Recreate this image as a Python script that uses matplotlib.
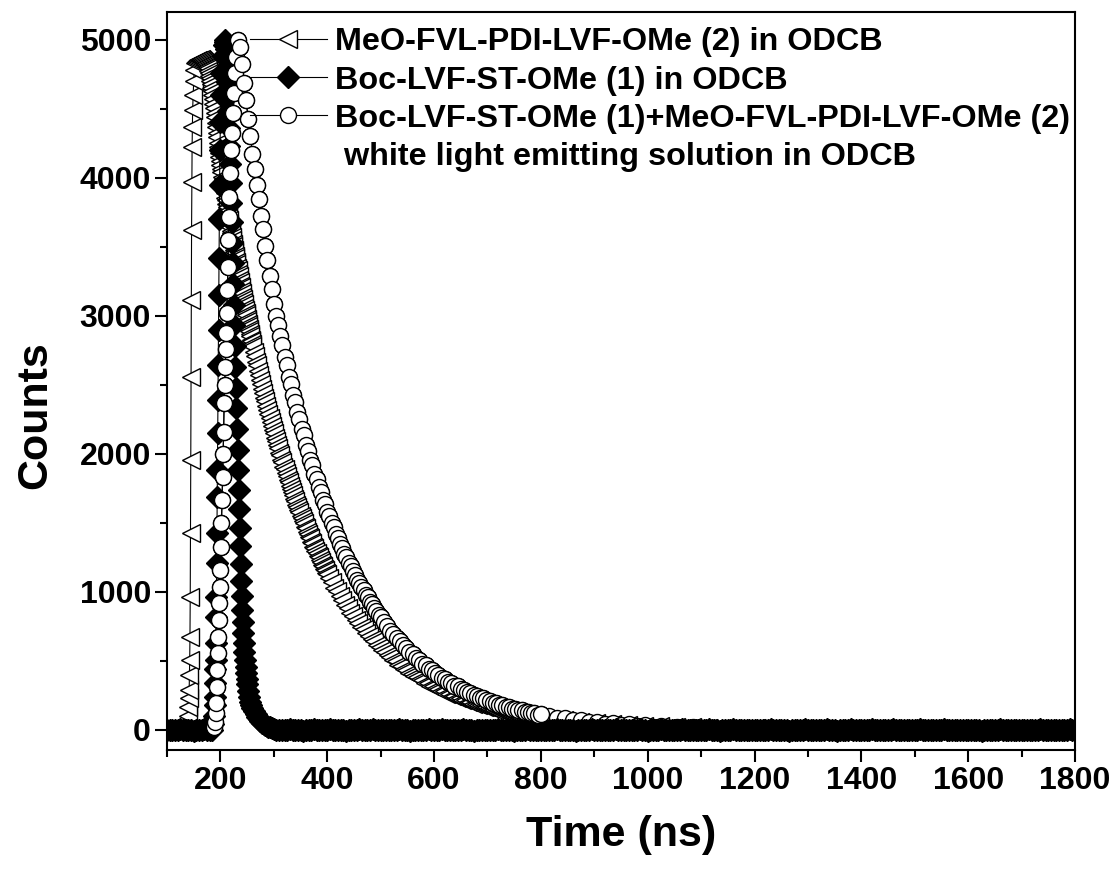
import numpy as np
import matplotlib
matplotlib.use("Agg")
import matplotlib.pyplot as plt
from matplotlib.lines import Line2D
from matplotlib.ticker import MultipleLocator

plt.rcParams["font.family"] = ["Liberation Sans", "DejaVu Sans"]
plt.rcParams["font.weight"] = "bold"
plt.rcParams["axes.labelweight"] = "bold"

# ---------------------------------------------------------------------------
# Fluorescence decay histograms (time in ns, counts)
# ---------------------------------------------------------------------------
labels = [
    "MeO-FVL-PDI-LVF-OMe (2) in ODCB",
    "Boc-LVF-ST-OMe (1) in ODCB",
    "Boc-LVF-ST-OMe (1)+MeO-FVL-PDI-LVF-OMe (2)",
    " white light emitting solution in ODCB",
]

# --- MeO-FVL-PDI-LVF-OMe (2) --------------------------------------------
pdi_time_base = [100, 104, 108, 112, 116, 120, 124, 128, 132, 135]
pdi_counts_base = [6, -8, 10, 3, 14, 7, 20, 16, 28, 38]

pdi_time_rise = [138, 139, 140, 141, 141.5, 142, 142.5, 143, 143.5, 144, 144.5,
                 145, 145.5, 146, 146.5, 147, 147.5, 148, 149, 150, 151, 152]
pdi_counts_rise = [50, 100, 170, 230, 290, 400, 507, 674, 964, 1428, 1957,
                   2558, 3116, 3623, 3971, 4225, 4370, 4493, 4600, 4700, 4780, 4830]

pdi_time_peak = [154, 156, 158, 160, 162, 164, 166, 168, 170]
pdi_counts_peak = [4840, 4848, 4852, 4855, 4850, 4856, 4852, 4846, 4838]

pdi_time_decay1 = [171, 172, 173, 174, 175, 176, 177, 178, 179, 180,
                   181, 182, 183, 184, 185, 186, 187, 188, 189, 190,
                   191, 192, 193, 194, 195, 196, 197, 198, 199, 200,
                   201, 202, 203, 204, 205, 206, 207, 208, 209, 210,
                   211, 212, 213, 214, 215, 216, 217, 218, 219, 220,
                   221, 222, 223, 224, 225, 226, 227, 228, 229, 230,
                   231, 232, 233, 234, 235, 236, 237, 238, 239, 240,
                   241, 242, 243, 244, 245, 246, 247, 248, 249, 250,
                   251, 252, 253, 254, 255, 256, 257, 258, 259, 260]
pdi_counts_decay1 = [4832, 4826, 4818, 4812, 4800, 4791, 4774, 4760, 4738, 4722,
                     4700, 4682, 4653, 4630, 4598, 4570, 4533, 4502, 4465, 4436,
                     4398, 4366, 4325, 4293, 4251, 4219, 4178, 4152, 4118, 4091,
                     4060, 4040, 4008, 3988, 3957, 3937, 3906, 3887, 3856, 3837,
                     3807, 3788, 3758, 3740, 3710, 3692, 3662, 3645, 3615, 3598,
                     3569, 3552, 3523, 3507, 3478, 3462, 3434, 3418, 3390, 3374,
                     3346, 3331, 3303, 3288, 3261, 3246, 3219, 3205, 3178, 3164,
                     3138, 3123, 3097, 3084, 3058, 3044, 3019, 3003, 2978, 2965,
                     2940, 2927, 2902, 2889, 2865, 2852, 2828, 2816, 2792, 2780]

pdi_time_decay2 = [262, 264, 266, 268, 270, 272, 274, 276, 278, 280,
                   282, 284, 286, 288, 290, 292, 294, 296, 298, 300,
                   302, 304, 306, 308, 310, 312, 314, 316, 318, 320,
                   322, 324, 326, 328, 330, 332, 334, 336, 338, 340,
                   342, 344, 346, 348, 350, 352, 354, 356, 358, 360,
                   362, 364, 366, 368, 370, 372, 374, 376, 378, 380,
                   382, 384, 386, 388, 390, 392, 394, 396, 398, 400]
pdi_counts_decay2 = [2738, 2709, 2668, 2640, 2600, 2573, 2534, 2507, 2469, 2444,
                     2406, 2381, 2345, 2321, 2285, 2262, 2227, 2204, 2170, 2148,
                     2115, 2093, 2061, 2040, 2008, 1988, 1957, 1938, 1907, 1888,
                     1858, 1840, 1811, 1794, 1765, 1748, 1720, 1704, 1676, 1660,
                     1633, 1618, 1591, 1577, 1551, 1537, 1511, 1498, 1473, 1460,
                     1435, 1423, 1399, 1387, 1363, 1352, 1328, 1317, 1294, 1284,
                     1261, 1251, 1229, 1219, 1198, 1189, 1167, 1158, 1138, 1129]

pdi_time_decay3 = [403, 408, 413, 418, 423, 428, 433, 438, 443, 448,
                   453, 458, 463, 468, 473, 478, 483, 488, 493, 498,
                   503, 508, 513, 518, 523, 528, 533, 538, 543, 548,
                   553, 558, 563, 568, 573, 578, 583, 588, 593, 598,
                   603, 608, 613, 618, 623, 628, 633, 638, 643, 648,
                   653, 658, 663, 668, 673, 678, 683, 688, 693, 698,
                   703, 708, 713, 718, 723, 728, 733, 738, 743, 748,
                   753, 758, 763, 768, 773, 778, 783, 788, 793, 798]
pdi_counts_decay3 = [1100, 1072, 1031, 1005, 967, 942, 906, 884, 850, 829,
                     796, 777, 746, 729, 700, 684, 656, 641, 615, 601,
                     576, 564, 540, 529, 506, 496, 474, 465, 444, 436,
                     416, 409, 390, 384, 366, 360, 343, 338, 321, 317,
                     301, 297, 282, 279, 264, 262, 247, 245, 232, 230,
                     217, 216, 203, 203, 190, 190, 178, 179, 167, 168,
                     156, 157, 146, 148, 137, 139, 128, 130, 120, 122,
                     112, 115, 105, 108, 98, 101, 92, 95, 86, 89]

pdi_time_tail = [813, 828, 843, 858, 873, 888, 903, 918, 933, 948,
                 963, 978, 993, 1008, 1023, 1038, 1053, 1068, 1083, 1098,
                 1113, 1128, 1143, 1158, 1173, 1188, 1203, 1218, 1233, 1248,
                 1263, 1278, 1293, 1308, 1323, 1338, 1353, 1368, 1383, 1398,
                 1413, 1428, 1443, 1458, 1473, 1488, 1503, 1518, 1533, 1548,
                 1563, 1578, 1593, 1608, 1623, 1638, 1653, 1668, 1683, 1698,
                 1713, 1728, 1743, 1758, 1773, 1788, 1800]
pdi_counts_tail = [80, 66, 70, 52, 58, 41, 49, 33, 42, 27,
                   36, 20, 30, 15, 26, 11, 22, 8, 18, 5,
                   14, 2, 11, -3, 9, 1, 12, -5, 7, 0,
                   10, -4, 6, 2, 9, -6, 5, 1, 8, -3,
                   4, 0, 7, -5, 3, 2, 6, -4, 4, 0,
                   5, -2, 3, 1, 6, -3, 2, 0, 4, -2,
                   3, 1, 5, -1, 2, 0, 3]

# --- Boc-LVF-ST-OMe (1) --------------------------------------------------
st_time_base1 = [100, 105, 110, 115, 120, 125, 130, 135, 140, 145,
                 150, 155, 160, 165, 170, 175, 180, 185]
st_counts_base1 = [2, -1, 3, 0, -2, 4, 1, -3, 2, 0,
                   -4, 3, 1, -2, 4, 0, -1, 3]

st_time_rise = [187, 188, 189, 189.5, 190, 190.5, 191, 191.5, 192, 192.5, 193,
                193.5, 194, 194.5, 195, 195.5, 196, 196.5, 197, 197.5, 198,
                198.5, 199, 200, 201, 202, 204, 206, 208]
st_counts_rise = [40, 100, 180, 240, 340, 440, 510, 630, 820, 960, 1210,
                  1430, 1690, 1880, 2150, 2390, 2640, 2900, 3150, 3420, 3700,
                  3950, 4200, 4400, 4600, 4760, 4880, 4960, 5000]

st_time_fall = [209, 210, 211, 212, 213, 214, 215, 216, 217, 218,
                219, 220, 221, 222, 223, 224, 225, 226, 227, 228,
                229, 230, 231, 232, 233, 234, 235, 236, 237, 238,
                239, 240, 241, 242, 243, 244, 245, 246, 247, 248,
                249, 250, 252, 254, 256, 258, 260, 263, 266, 269,
                272, 275, 278, 281, 284, 287, 290, 293, 296, 300]
st_counts_fall = [4980, 4930, 4860, 4780, 4690, 4590, 4480, 4360, 4230, 4100,
                  3960, 3820, 3680, 3530, 3380, 3230, 3080, 2930, 2780, 2630,
                  2480, 2330, 2180, 2030, 1880, 1740, 1600, 1460, 1330, 1200,
                  1080, 970, 870, 780, 700, 630, 565, 505, 455, 410,
                  370, 335, 280, 240, 205, 180, 160, 135, 115, 97,
                  80, 66, 54, 44, 36, 29, 23, 18, 14, 9]

st_time_base2 = [305, 310, 315, 320, 325, 330, 335, 340, 345, 350, 355, 360, 365, 370, 375, 380, 385, 390, 395, 400,
                 405, 410, 415, 420, 425, 430, 435, 440, 445, 450, 455, 460, 465, 470, 475, 480, 485, 490, 495, 500,
                 505, 510, 515, 520, 525, 530, 535, 540, 545, 550, 555, 560, 565, 570, 575, 580, 585, 590, 595, 600,
                 605, 610, 615, 620, 625, 630, 635, 640, 645, 650, 655, 660, 665, 670, 675, 680, 685, 690, 695, 700,
                 705, 710, 715, 720, 725, 730, 735, 740, 745, 750, 755, 760, 765, 770, 775, 780, 785, 790, 795, 800,
                 805, 810, 815, 820, 825, 830, 835, 840, 845, 850, 855, 860, 865, 870, 875, 880, 885, 890, 895, 900,
                 905, 910, 915, 920, 925, 930, 935, 940, 945, 950, 955, 960, 965, 970, 975, 980, 985, 990, 995, 1000,
                 1005, 1010, 1015, 1020, 1025, 1030, 1035, 1040, 1045, 1050, 1055, 1060, 1065, 1070, 1075, 1080, 1085, 1090, 1095, 1100,
                 1105, 1110, 1115, 1120, 1125, 1130, 1135, 1140, 1145, 1150, 1155, 1160, 1165, 1170, 1175, 1180, 1185, 1190, 1195, 1200,
                 1205, 1210, 1215, 1220, 1225, 1230, 1235, 1240, 1245, 1250, 1255, 1260, 1265, 1270, 1275, 1280, 1285, 1290, 1295, 1300,
                 1305, 1310, 1315, 1320, 1325, 1330, 1335, 1340, 1345, 1350, 1355, 1360, 1365, 1370, 1375, 1380, 1385, 1390, 1395, 1400,
                 1405, 1410, 1415, 1420, 1425, 1430, 1435, 1440, 1445, 1450, 1455, 1460, 1465, 1470, 1475, 1480, 1485, 1490, 1495, 1500,
                 1505, 1510, 1515, 1520, 1525, 1530, 1535, 1540, 1545, 1550, 1555, 1560, 1565, 1570, 1575, 1580, 1585, 1590, 1595, 1600,
                 1605, 1610, 1615, 1620, 1625, 1630, 1635, 1640, 1645, 1650, 1655, 1660, 1665, 1670, 1675, 1680, 1685, 1690, 1695, 1700,
                 1705, 1710, 1715, 1720, 1725, 1730, 1735, 1740, 1745, 1750, 1755, 1760, 1765, 1770, 1775, 1780, 1785, 1790, 1795, 1800]
st_counts_base2 = [2, -1, 3, 0, -2, 4, 1, -3, 2, 0, -4, 3, 1, -2, 5, 0, -1, 2, -3, 1,
                   4, -2, 0, 3, -1, 2, -4, 1, 3, -2, 0, 5, -1, 2, -3, 0, 4, -2, 1, -1,
                   3, 0, -3, 2, 1, -2, 4, -1, 0, 3, -4, 1, 2, -1, 3, -2, 0, 4, -3, 1,
                   -1, 2, 5, -2, 0, 3, -3, 1, 2, -1, 4, 0, -2, 3, -4, 2, 1, -1, 3, 0,
                   2, -3, 1, 4, -1, 0, 3, -2, 1, -4, 2, 3, -1, 0, 4, -2, 1, -3, 2, 0,
                   -2, 3, 0, 1, -3, 4, -1, 2, 0, -2, 3, 1, -4, 2, 0, 3, -1, -2, 4, 1,
                   0, -1, 3, -3, 2, 1, -2, 4, 0, -1, 2, -3, 3, 1, -2, 0, 4, -1, 2, -4,
                   3, 1, -2, 0, 4, -3, 2, -1, 1, 3, -2, 0, 5, -1, -3, 2, 1, -2, 3, 0,
                   -3, 2, 4, -1, 0, 2, -4, 3, 1, -2, 0, 4, -1, 2, -3, 1, 3, -2, 0, 2,
                   1, -2, 3, 0, -1, 4, -3, 1, 2, -2, 3, 0, -4, 2, 1, -1, 3, -2, 4, 0,
                   -1, 3, -2, 2, 0, -3, 4, 1, -1, 2, -4, 3, 0, 1, -2, 4, -1, 0, 2, -3,
                   2, 0, -1, 4, -2, 1, 3, -3, 0, 2, -1, 4, -2, 1, 0, -3, 3, 1, -1, 2,
                   -2, 4, 1, -1, 3, -3, 0, 2, -2, 1, 4, -1, 0, -3, 2, 3, -2, 1, 0, -1,
                   3, -1, 2, 0, -4, 2, 1, -2, 3, 0, -1, 4, -3, 1, 2, -2, 0, 3, -1, 1,
                   0, 2, -3, 3, 1, -1, 4, -2, 0, 2, -3, 1, 3, -1, 0, 2, -2, 4, -1, 1]

# --- Boc-LVF-ST-OMe (1) + MeO-FVL-PDI-LVF-OMe (2), white light mixture ---
mix_time_base = [100, 106, 112, 118, 124, 130, 136, 142, 148, 154, 160, 166, 172, 178, 184, 188]
mix_counts_base = [5, -8, 10, 0, 13, -5, 8, 12, -9, 6, 14, -3, 9, 18, 12, 25]

mix_time_rise = [190, 191, 192, 193, 194, 195, 196, 197, 198, 199,
                 200, 201, 202, 203, 204, 205, 206, 207, 208, 209,
                 210, 211, 212, 213, 214, 215, 216, 217, 218, 220,
                 222, 224, 226, 228, 230, 232]
mix_counts_rise = [60, 123, 196, 312, 435, 558, 674, 797, 920, 1036,
                   1159, 1326, 1500, 1667, 1833, 2000, 2160, 2370, 2500, 2630,
                   2760, 2877, 3022, 3188, 3355, 3551, 3717, 3862, 4036, 4203,
                   4326, 4471, 4616, 4761, 4877, 5000]

mix_time_decay1 = [236, 240, 244, 248, 252, 256, 260, 264, 268, 272, 276, 280, 284, 288, 292, 296, 300]
mix_counts_decay1 = [4950, 4825, 4685, 4565, 4425, 4305, 4175, 4065, 3945, 3845, 3725, 3625, 3505,
                     3405, 3285, 3195, 3085]

mix_time_decay2 = [304, 308, 312, 316, 320, 324, 328, 332, 336, 340,
                   344, 348, 352, 356, 360, 364, 368, 372, 376, 380,
                   384, 388, 392, 396, 400, 404, 408, 412, 416, 420,
                   424, 428, 432, 436, 440, 444, 448, 452, 456, 460,
                   464, 468, 472, 476, 480, 484, 488, 492, 496, 500]
mix_counts_decay2 = [3000, 2935, 2850, 2785, 2700, 2640, 2560, 2503, 2425, 2372,
                     2300, 2250, 2180, 2133, 2066, 2022, 1958, 1918, 1857, 1818,
                     1760, 1724, 1669, 1634, 1582, 1550, 1500, 1470, 1422, 1393,
                     1348, 1321, 1278, 1253, 1212, 1188, 1149, 1126, 1089, 1068,
                     1032, 1012, 979, 960, 928, 910, 880, 863, 834, 818]

mix_time_decay3 = [506, 512, 518, 524, 530, 536, 542, 548, 554, 560,
                   566, 572, 578, 584, 590, 596, 602, 608, 614, 620,
                   626, 632, 638, 644, 650, 656, 662, 668, 674, 680,
                   686, 692, 698, 704, 710, 716, 722, 728, 734, 740,
                   746, 752, 758, 764, 770, 776, 782, 788, 794, 800]
mix_counts_decay3 = [780, 755, 720, 698, 664, 644, 613, 595, 566, 549,
                     522, 507, 481, 468, 444, 433, 410, 400, 378, 369,
                     349, 341, 322, 315, 297, 291, 274, 269, 253, 249,
                     233, 230, 215, 212, 198, 196, 183, 181, 168, 167,
                     155, 155, 143, 143, 132, 132, 121, 122, 112, 113]

mix_time_tail = [815, 830, 845, 860, 875, 890, 905, 920, 935, 950,
                 965, 980, 995, 1010, 1025, 1040, 1055, 1070, 1085, 1100,
                 1115, 1130, 1145, 1160, 1175, 1190, 1205, 1220, 1235, 1250,
                 1265, 1280, 1295, 1310, 1325, 1340, 1355, 1370, 1385, 1400,
                 1415, 1430, 1445, 1460, 1475, 1490, 1505, 1520, 1535, 1550,
                 1565, 1580, 1595, 1610, 1625, 1640, 1655, 1670, 1685, 1700,
                 1715, 1730, 1745, 1760, 1775, 1790, 1800]
mix_counts_tail = [101, 86, 85, 70, 71, 55, 59, 44, 49, 35,
                   41, 28, 34, 22, 29, 17, 24, 13, 20, 10,
                   17, 8, 15, 4, 12, 3, 10, 1, 9, -2,
                   8, 2, 7, -3, 6, 1, 8, -4, 5, 2,
                   6, -2, 4, 1, 7, -3, 3, 2, 5, -2,
                   4, 0, 6, -1, 3, 1, 5, -3, 2, 0,
                   4, -2, 3, 1, 4, -1, 2]


def join(*segments):
    return np.concatenate([np.asarray(s, dtype=float) for s in segments])


pdi_t = join(pdi_time_base, pdi_time_rise, pdi_time_peak, pdi_time_decay1,
             pdi_time_decay2, pdi_time_decay3, pdi_time_tail)
pdi_c = join(pdi_counts_base, pdi_counts_rise, pdi_counts_peak, pdi_counts_decay1,
             pdi_counts_decay2, pdi_counts_decay3, pdi_counts_tail)
st_t = join(st_time_base1, st_time_rise, st_time_fall, st_time_base2)
st_c = join(st_counts_base1, st_counts_rise, st_counts_fall, st_counts_base2)
mix_t = join(mix_time_base, mix_time_rise, mix_time_decay1, mix_time_decay2,
             mix_time_decay3, mix_time_tail)
mix_c = join(mix_counts_base, mix_counts_rise, mix_counts_decay1, mix_counts_decay2,
             mix_counts_decay3, mix_counts_tail)

# ---------------------------------------------------------------------------
W, H = 1117, 876
fig = plt.figure(figsize=(W / 100, H / 100), dpi=100)
ax = fig.add_axes([167 / W, 1 - 750 / H, (1075 - 167) / W, (750 - 12) / H])

tri_style = dict(color="black", lw=0.8, marker="<", ms=13, mfc="white", mec="black", mew=1.0)
dia_style = dict(color="black", lw=0.8, marker="D", ms=11, mfc="black", mec="black", mew=1.0)
cir_style = dict(color="black", lw=0.8, marker="o", ms=11.5, mfc="white", mec="black", mew=1.0)

ax.plot(pdi_t, pdi_c, zorder=2, **tri_style)
ax.plot(mix_t, mix_c, zorder=2.5, **cir_style)
ax.plot(st_t, st_c, zorder=3, **dia_style)
# the mixture's rise and decay sit above the other traces
front = (mix_t >= 188) & (mix_t <= 800)
ax.plot(mix_t[front], mix_c[front], zorder=4, **cir_style)

ax.set_xlim(100, 1800)
ax.set_ylim(-145, 5200)
ax.xaxis.set_major_locator(MultipleLocator(200))
ax.xaxis.set_minor_locator(MultipleLocator(100))
ax.yaxis.set_major_locator(MultipleLocator(1000))
ax.yaxis.set_minor_locator(MultipleLocator(500))
ax.tick_params(which="both", direction="out", width=1.5, top=False, right=False,
               labelsize=23, pad=3)
ax.tick_params(which="major", length=8.5)
ax.tick_params(which="minor", length=5)
for sp in ax.spines.values():
    sp.set_linewidth(1.5)

ax.set_xlabel("Time (ns)", fontsize=31)
ax.set_ylabel("Counts", fontsize=31)
ax.xaxis.set_label_coords(0.5, -0.088)
ax.yaxis.set_label_coords(-0.123, 0.454)

handles = [
    Line2D([], [], **tri_style),
    Line2D([], [], **dia_style),
    Line2D([], [], **cir_style),
    Line2D([], [], color="none"),
]
ax.legend(handles, labels, loc="upper left", bbox_to_anchor=(0.0914, 0.979),
          frameon=False, prop={"size": 23.3, "weight": "bold"}, handlelength=2.37,
          handletextpad=0.25, labelspacing=0.25, borderpad=0, borderaxespad=0,
          numpoints=1)

fig.savefig("out.png", dpi=100, facecolor="white")
